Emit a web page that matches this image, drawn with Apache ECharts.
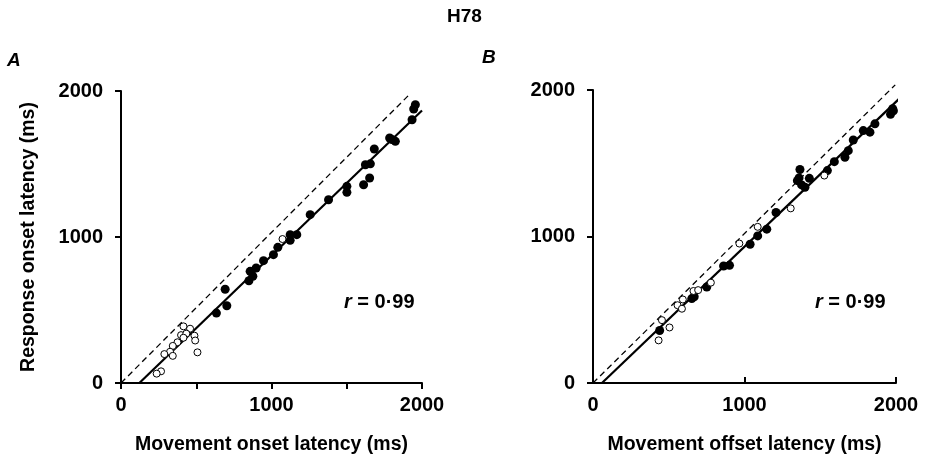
<!DOCTYPE html>
<html>
<head>
<meta charset="utf-8">
<script src="https://cdn.jsdelivr.net/npm/echarts@6/dist/echarts.min.js"></script>
<style>
  html, body { margin: 0; padding: 0; background: #fff; }
  #chart { width: 929px; height: 460px; }
</style>
</head>
<body>
<div id="chart"></div>
<script>
// Panel A: response onset vs movement onset latency (ms)
const onsetFilled = [
  [1956,1906],[1945,1877],[1934,1803],[1785,1678],[1823,1655],[1800,1668],
  [1683,1603],[1624,1495],[1657,1501],[1652,1404],[1612,1358],[1501,1347],
  [1501,1306],[1379,1255],[1257,1153],[1124,1016],[1168,1016],[1124,977],
  [1042,929],[1013,879],[947,838],[898,788],[858,765],[876,731],[850,700],
  [692,642],[703,529],[634,479]
];
const onsetOpen = [
  [415,388],[459,372],[399,328],[434,338],[415,310],[488,324],[493,291],
  [375,279],[344,254],[326,214],[288,198],[344,186],[508,210],[266,80],
  [237,64],[1073,986]
];
const onsetFit = [[122,0],[2000,1867]];
const onsetUnity = [[0,0],[1925,1985]];

// Panel B: response onset vs movement offset latency (ms)
const offsetFilled = [
  [1978,1872],[1983,1858],[1964,1834],[1861,1769],[1784,1723],[1828,1712],
  [1718,1659],[1685,1586],[1663,1541],[1593,1511],[1547,1450],[1428,1397],
  [1366,1457],[1349,1381],[1360,1400],[1377,1352],[1399,1336],[1208,1164],
  [1147,1050],[1087,1004],[1037,947],[901,803],[862,799],[751,655],
  [668,589],[652,576],[440,358]
];
const offsetOpen = [
  [1527,1416],[1305,1192],[1087,1066],[966,952],[778,685],[663,628],
  [694,634],[593,570],[558,531],[587,507],[455,429],[505,379],[433,291]
];
const offsetFit = [[59,0],[2049,1968]];
const offsetUnity = [[0,0],[1995,2035]];

const yTicks = [0, 1000, 2000];
const xLabelled = [0, 1000, 2000];

const FONT = 'Liberation Sans';
const ink = '#000';

function valueAxis(gridIndex, interval, tickInside, name, nameGap, isY) {
  return {
    type: 'value', gridIndex, min: 0, max: 2000, interval,
    name, nameLocation: 'middle', nameGap,
    nameRotate: isY ? 90 : 0,
    nameTextStyle: { fontFamily: FONT, fontSize: 19.5, fontWeight: 'bold', color: ink },
    axisLine: { show: true, onZero: false, lineStyle: { color: ink, width: 2 } },
    axisTick: { show: true, inside: tickInside, length: 6, lineStyle: { color: ink, width: 2 } },
    axisLabel: {
      margin: isY ? 18 : 12, fontFamily: FONT, fontSize: 20, fontWeight: 'bold', color: ink,
      formatter: v => ((isY ? yTicks : xLabelled).includes(v) ? String(v) : '')
    },
    splitLine: { show: false }
  };
}

function points(data, xi, filled) {
  return {
    type: 'scatter', xAxisIndex: xi, yAxisIndex: xi, data,
    symbol: 'circle', symbolSize: filled ? 9 : 7, z: filled ? 3 : 4,
    itemStyle: filled
      ? { color: ink, opacity: 1 }
      : { color: '#fff', borderColor: ink, borderWidth: 1, opacity: 1 }
  };
}

function line(data, xi, dashed) {
  return {
    type: 'line', xAxisIndex: xi, yAxisIndex: xi, data,
    showSymbol: false, clip: false, silent: true, z: 2,
    lineStyle: dashed
      ? { color: ink, width: 1.3, type: [6, 4] }
      : { color: ink, width: 2.2 }
  };
}

const rStyle = {
  fontFamily: FONT, fontSize: 20, fontWeight: 'bold', color: ink,
  rich: { i: { fontFamily: FONT, fontSize: 20, fontWeight: 'bold', fontStyle: 'italic', color: ink } }
};

const option = {
  backgroundColor: '#fff',
  animation: false,
  title: [
    { text: 'H78', left: 447, top: 7, padding: 0,
      textStyle: { fontFamily: FONT, fontSize: 19, fontWeight: 'bold', color: ink } },
    { text: 'A', left: 7, top: 51, padding: 0,
      textStyle: { fontFamily: FONT, fontSize: 19, fontWeight: 'bold', fontStyle: 'italic', color: ink } },
    { text: 'B', left: 482, top: 48, padding: 0,
      textStyle: { fontFamily: FONT, fontSize: 19, fontWeight: 'bold', fontStyle: 'italic', color: ink } },
    { text: '{i|r} = 0·99', left: 344, top: 292, padding: 0, textStyle: rStyle },
    { text: '{i|r} = 0·99', left: 815, top: 292, padding: 0, textStyle: rStyle }
  ],
  grid: [
    { left: 121, top: 91, width: 301, height: 292 },
    { left: 593, top: 90, width: 303, height: 293 }
  ],
  xAxis: [
    valueAxis(0, 500, false, 'Movement onset latency (ms)', 52, false),
    valueAxis(1, 1000, true, 'Movement offset latency (ms)', 52, false)
  ],
  yAxis: [
    valueAxis(0, 1000, false, 'Response onset latency (ms)', 82, true),
    valueAxis(1, 1000, false, '', 82, true)
  ],
  series: [
    line(onsetUnity, 0, true),
    line(onsetFit, 0, false),
    points(onsetFilled, 0, true),
    points(onsetOpen, 0, false),
    line(offsetUnity, 1, true),
    line(offsetFit, 1, false),
    points(offsetFilled, 1, true),
    points(offsetOpen, 1, false)
  ]
};

const chart = echarts.init(document.getElementById('chart'), null, { renderer: 'canvas' });
chart.setOption(option);
</script>
</body>
</html>
